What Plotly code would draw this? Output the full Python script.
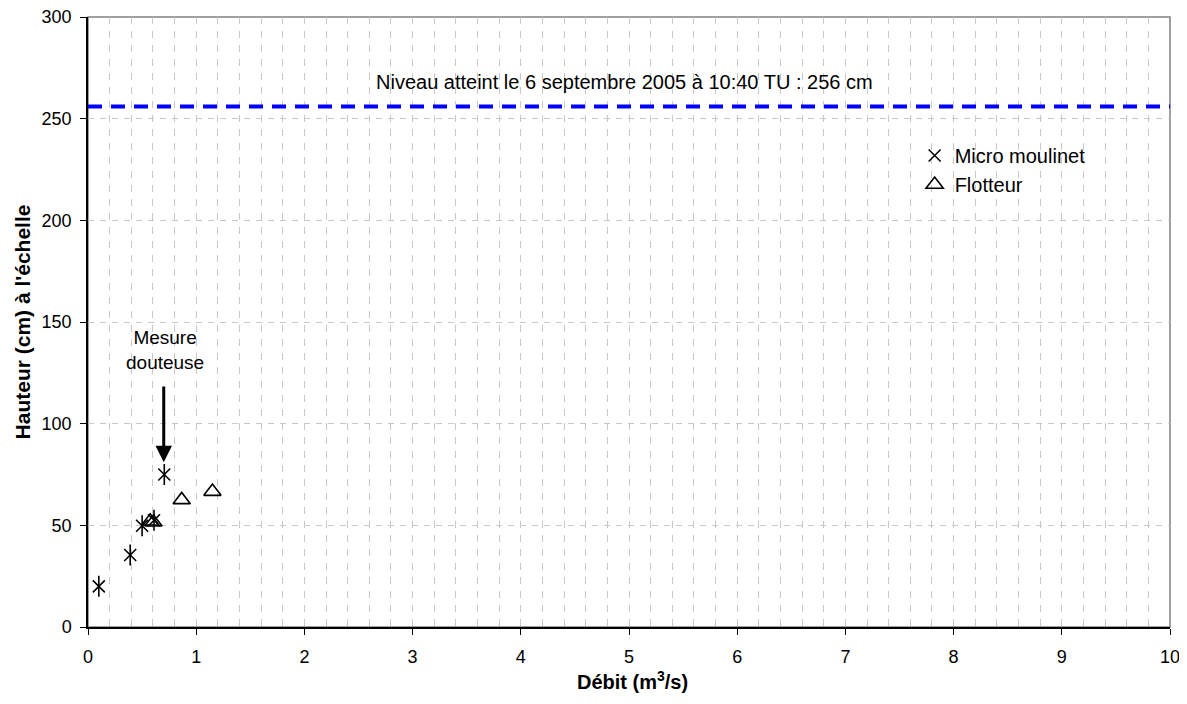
import plotly.graph_objects as go

# Data
micro_x = [0.10, 0.39, 0.50, 0.61, 0.705]
micro_y = [20, 35.4, 49.8, 52.5, 75]
flot_x = [0.575, 0.605, 0.866, 1.15]
flot_y = [52, 51.5, 62.5, 66.6]
niveau = 256
x_range = [0, 10]
y_range = [0, 300]

FONT = "Liberation Sans, Arial, sans-serif"
GRID = "#c8c8c8"

fig = go.Figure()

# Micro moulinet: 6-arm star = X + vertical bar
fig.add_trace(go.Scatter(
    x=micro_x, y=micro_y, mode="markers", name="Micro moulinet",
    legendgroup="micro",
    marker=dict(symbol="x-thin-open", size=12, color="black",
                line=dict(color="black", width=1.6)),
))
fig.add_trace(go.Scatter(
    x=micro_x, y=micro_y, mode="markers", name="Micro moulinet",
    legendgroup="micro", showlegend=False,
    marker=dict(symbol="line-ns-open", size=15, color="black",
                line=dict(color="black", width=1.6)),
))
fig.add_trace(go.Scatter(
    x=flot_x, y=flot_y, mode="markers", name="Flotteur",
    marker=dict(symbol="triangle-up-open", size=15, color="black",
                line=dict(color="black", width=1.6)),
))
fig.add_trace(go.Scatter(
    x=x_range, y=[niveau, niveau], mode="lines", showlegend=False,
    line=dict(color="#0000ff", width=4, dash="14px,9px"), hoverinfo="skip",
))

fig.add_annotation(
    x=4.96, y=268, text="Niveau atteint le 6 septembre 2005 à 10:40 TU : 256 cm",
    showarrow=False, font=dict(family=FONT, size=20, color="black"),
)
fig.add_annotation(
    x=0.71, y=136, text="Mesure<br>douteuse", showarrow=False,
    font=dict(family=FONT, size=19, color="black"), yanchor="middle",
)
fig.add_annotation(
    x=0.70, y=81, ax=0.70, ay=119, xref="x", yref="y", axref="x", ayref="y",
    text="", showarrow=True, arrowhead=2, arrowsize=1.1, arrowwidth=3,
    arrowcolor="black",
)
# x-axis title
fig.add_annotation(
    x=0.503, y=-0.0869, xref="paper", yref="paper", yanchor="middle",
    text="<b>Débit (m<sup>3</sup>/s)</b>", showarrow=False,
    font=dict(family=FONT, size=20, color="black"),
)

# Gray plot frame (top/right)
fig.add_shape(type="rect", xref="paper", yref="paper", x0=0, y0=0, x1=1, y1=1,
              line=dict(color="#808080", width=1.5), layer="below")

fig.update_layout(
    width=1179, height=696,
    margin=dict(l=80, r=17, t=9, b=77, autoexpand=False),
    paper_bgcolor="white", plot_bgcolor="white",
    font=dict(family=FONT, size=18, color="black"),
    showlegend=True,
    legend=dict(x=0.764, y=0.805, xanchor="left", yanchor="top",
                bgcolor="rgba(0,0,0,0)", borderwidth=0,
                font=dict(family=FONT, size=20), itemwidth=30, tracegroupgap=0),
    xaxis=dict(
        range=x_range, dtick=1, tick0=0, automargin=False,
        showgrid=True, gridcolor=GRID, griddash="7px,7px", gridwidth=1,
        minor=dict(dtick=0.2, showgrid=True, gridcolor=GRID, griddash="7px,7px", ticks=""),
        showline=True, linecolor="black", linewidth=1.5,
        ticks="outside", ticklen=6, tickcolor="black", tickwidth=1.3,
        ticklabelstandoff=7, ticklabeloverflow="allow",
        zeroline=False,
    ),
    yaxis=dict(
        range=y_range, dtick=50, tick0=0, automargin=False,
        showgrid=True, gridcolor=GRID, griddash="6px,6px", gridwidth=1,
        showline=True, linecolor="black", linewidth=1.5,
        ticks="outside", ticklen=6, tickcolor="black", tickwidth=1.3,
        ticklabelstandoff=5, ticklabeloverflow="allow",
        zeroline=False,
        title=dict(text="<b>Hauteur (cm) à l'échelle</b>", font=dict(size=21), standoff=5),
    ),
)

fig.write_html("out.html")
